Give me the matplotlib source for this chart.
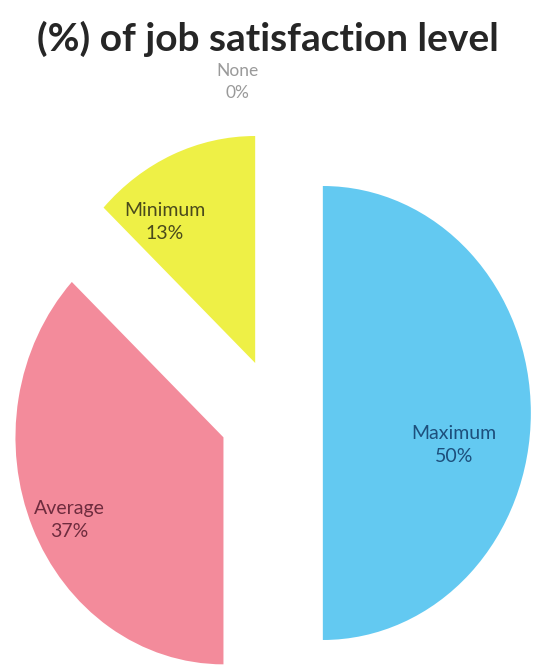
import matplotlib
matplotlib.use("Agg")
import matplotlib.pyplot as plt

# Job satisfaction shares (counter-clockwise from the bottom)
levels = ["Maximum", "None", "Minimum", "Average"]
shares = [50, 0, 13, 37]
explode = [0.23, 0.27, 0.24, 0.27]
colors = ["#63c9f1", "#dddddd", "#eef046", "#f38b9b"]
text_colors = ["#1d4f7c", "#9a9a9a", "#4a4a1c", "#6e2c3e"]

# where each label sits, in axes data units
label_pos = [(0.86, -0.14), (-0.18, 1.46), (-0.53, 0.84), (-0.99, -0.47)]

if __name__ == "__main__":
    plt.rcParams["font.family"] = ["Lato", "DejaVu Sans"]

    fig = plt.figure(figsize=(5.35, 6.67), dpi=100)
    ax = fig.add_axes([0, 0, 1, 1])

    wedges, texts = ax.pie(
        shares,
        explode=explode,
        colors=colors,
        startangle=-90,
        counterclock=True,
        labels=[f"{n}\n{v}%" for n, v in zip(levels, shares)],
        labeldistance=0.5,
        wedgeprops={"linewidth": 0},
        normalize=True,
    )

    for t, pos, c in zip(texts, label_pos, text_colors):
        t.set_position(pos)
        t.set_color(c)
        t.set_fontsize(14 if c != "#9a9a9a" else 12.5)
        t.set_ha("center")
        t.set_va("center")
        t.set_linespacing(1.45)

    # slightly taller than wide, as drawn
    ax.set_aspect("auto")
    ax.set_xlim(-275 / 208, 260 / 208)
    ax.set_ylim(-254 / 227, 413 / 227)
    ax.axis("off")

    fig.text(0.5, 0.942, "(%) of job satisfaction level", ha="center", va="center",
             fontsize=28, fontweight="bold", color="#262626")

    fig.savefig("out.png", dpi=100, facecolor="white")
